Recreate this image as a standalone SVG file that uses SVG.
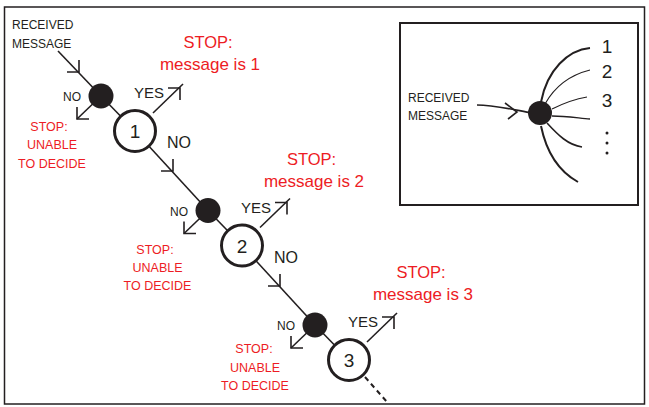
<svg xmlns="http://www.w3.org/2000/svg" width="649" height="407" viewBox="0 0 649 407">
<style>
.t{font-family:"Liberation Sans",Arial,sans-serif;fill:#231f20}
.r{font-family:"Liberation Sans",Arial,sans-serif;fill:#ed1c24;text-anchor:middle}
.ln{stroke:#231f20;stroke-width:1.6;fill:none}
.dot{fill:#231f20}
.ring{fill:#fff;stroke:#231f20;stroke-width:3}
</style>
<rect x="4.5" y="7" width="640" height="397" fill="#fff" stroke="#231f20" stroke-width="1.5"/>

<g id="connectors" class="ln">
  <!-- entry -->
  <path d="M58,51 L101,96"/>
  <path d="M67,72 L79,72 L79,60"/>
  <!-- level 0 -->
  <path d="M101,96 L135,131"/>
  <path d="M153,113 L183,84"/>
  <path d="M168,88 L180,88 L180,100"/>
  <path d="M101,96 L77,119"/>
  <path d="M77,107 L77,119 L89,119"/>
  <path d="M135,131 L208,210.5"/>
  <path d="M161,171 L173,171 L173,159"/>
  <!-- level 1 -->
  <path d="M208,210.5 L242,245.5"/>
  <path d="M260,227.5 L290,198.5"/>
  <path d="M275,202.5 L287,202.5 L287,214.5"/>
  <path d="M208,210.5 L184,233.5"/>
  <path d="M184,221.5 L184,233.5 L196,233.5"/>
  <path d="M242,245.5 L315,325"/>
  <path d="M268,286 L280,286 L280,274"/>
  <!-- level 2 -->
  <path d="M315,325 L349,360"/>
  <path d="M367,342 L397,313"/>
  <path d="M382,317 L394,317 L394,329"/>
  <path d="M315,325 L291,348"/>
  <path d="M291,336 L291,348 L303,348"/>
  <path d="M365,377 L387,402" stroke-width="2" stroke-dasharray="5 4"/>
</g>

<g id="received">
  <text class="t" x="12" y="29" font-size="12">RECEIVED</text>
  <text class="t" x="12" y="48" font-size="12">MESSAGE</text>
</g>

<g id="node-dot-1">
  <circle class="dot" cx="101" cy="96" r="12.5"/>
  <text class="t" x="63" y="101" font-size="12">NO</text>
</g>
<g id="node-1">
  <circle class="ring" cx="135" cy="131" r="20.5"/>
  <text class="t" x="135" y="138" font-size="19" text-anchor="middle">1</text>
  <text class="t" x="134" y="98" font-size="15">YES</text>
  <text class="t" x="167" y="148" font-size="16">NO</text>
</g>
<g id="stop-1">
  <text class="r" x="208" y="48" font-size="16.5">STOP:</text>
  <text class="r" x="210" y="70" font-size="17">message is 1</text>
</g>
<g id="undecided-1">
  <text class="r" x="49" y="131" font-size="12.5">STOP:</text>
  <text class="r" x="52" y="149" font-size="12.5">UNABLE</text>
  <text class="r" x="52" y="168" font-size="12.5">TO DECIDE</text>
</g>

<g id="node-dot-2">
  <circle class="dot" cx="208" cy="210.5" r="12.5"/>
  <text class="t" x="170" y="215.5" font-size="12">NO</text>
</g>
<g id="node-2">
  <circle class="ring" cx="242" cy="245.5" r="20.5"/>
  <text class="t" x="242" y="252.5" font-size="19" text-anchor="middle">2</text>
  <text class="t" x="241" y="212.5" font-size="15">YES</text>
  <text class="t" x="274" y="262.5" font-size="16">NO</text>
</g>
<g id="stop-2">
  <text class="r" x="311.5" y="165" font-size="16.5">STOP:</text>
  <text class="r" x="314" y="187" font-size="17">message is 2</text>
</g>
<g id="undecided-2">
  <text class="r" x="155" y="254" font-size="12.5">STOP:</text>
  <text class="r" x="157.5" y="272" font-size="12.5">UNABLE</text>
  <text class="r" x="157.5" y="290" font-size="12.5">TO DECIDE</text>
</g>

<g id="node-dot-3">
  <circle class="dot" cx="315" cy="325" r="12.5"/>
  <text class="t" x="277" y="330" font-size="12">NO</text>
</g>
<g id="node-3">
  <circle class="ring" cx="349" cy="360" r="20.5"/>
  <text class="t" x="349" y="367" font-size="19" text-anchor="middle">3</text>
  <text class="t" x="348" y="327" font-size="15">YES</text>
</g>
<g id="stop-3">
  <text class="r" x="421" y="278" font-size="16.5">STOP:</text>
  <text class="r" x="423" y="300" font-size="17">message is 3</text>
</g>
<g id="undecided-3">
  <text class="r" x="254" y="353" font-size="12.5">STOP:</text>
  <text class="r" x="255" y="372" font-size="12.5">UNABLE</text>
  <text class="r" x="255" y="390" font-size="12.5">TO DECIDE</text>
</g>

<g id="inset">
  <rect x="400" y="23" width="238" height="182" fill="none" stroke="#231f20" stroke-width="2"/>
  <text class="t" x="408" y="102" font-size="12">RECEIVED</text>
  <text class="t" x="408" y="120" font-size="12">MESSAGE</text>
  <g class="ln">
    <path d="M477,105 C495,105 515,110 532,113"/>
    <path d="M505,103 L517,112 L508,119"/>
    <path d="M541,102 C547,70 568,50 590,48" stroke-width="2"/>
    <path d="M545,104 C555,86 570,75 590,70" stroke-width="1.2"/>
    <path d="M552,109 C564,103 575,99 587,97" stroke-width="1.2"/>
    <path d="M552,116 C565,116 578,118 590,119" stroke-width="1.4"/>
    <path d="M547,123 C558,135 568,145 582,147" stroke-width="1.6"/>
    <path d="M541,126 C547,155 560,172 578,182" stroke-width="2"/>
  </g>
  <circle class="dot" cx="540" cy="113" r="12"/>
  <text class="t" x="607" y="53" font-size="19" text-anchor="middle">1</text>
  <text class="t" x="607" y="78" font-size="19" text-anchor="middle">2</text>
  <text class="t" x="607" y="107" font-size="19" text-anchor="middle">3</text>
  <circle class="dot" cx="607" cy="133" r="1.5"/>
  <circle class="dot" cx="607" cy="143" r="1.5"/>
  <circle class="dot" cx="607" cy="153" r="1.5"/>
</g>
</svg>
